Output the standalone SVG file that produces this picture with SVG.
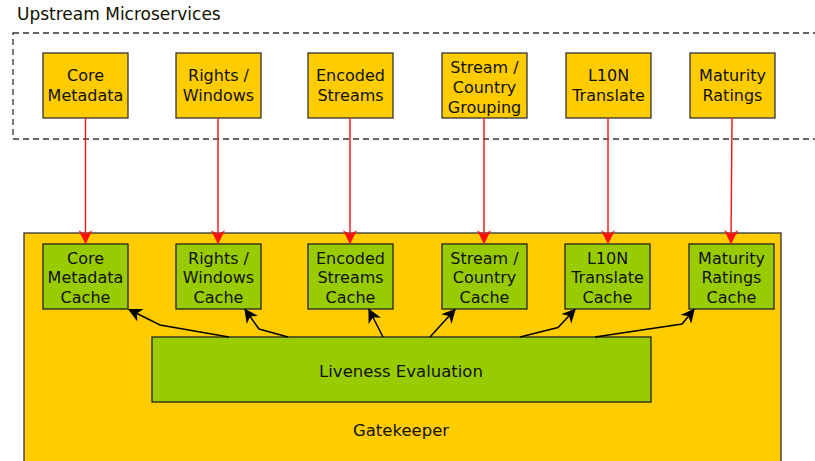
<svg xmlns="http://www.w3.org/2000/svg" width="815" height="461" viewBox="0 0 815 461">
<style>
text{font-family:"DejaVu Sans",Verdana,sans-serif;fill:#111100;text-anchor:middle}
.n{font-size:16px}
.up{fill:#FFCC00;stroke:#333;stroke-width:1.3}
.c{fill:#99CC00;stroke:#222;stroke-width:1.3}
.red{stroke:#ff1010;stroke-width:1.4;fill:none}
.blk{stroke:#000;stroke-width:1.5;fill:none}
</style>
<defs>
<marker id="ar" markerUnits="userSpaceOnUse" markerWidth="14" markerHeight="14" viewBox="0 0 12 12" refX="11" refY="6" orient="auto">
<path d="M0,0 L12,6 L0,12 L3.5,6 z" fill="#ff1010"/>
</marker>
<marker id="ab" markerUnits="userSpaceOnUse" markerWidth="14" markerHeight="14" viewBox="0 0 12 12" refX="11" refY="6" orient="auto">
<path d="M0,0 L12,6 L0,12 L3.5,6 z" fill="#000"/>
</marker>
</defs>
<text x="17" y="20" style="font-size:17px;text-anchor:start">Upstream Microservices</text>
<rect x="13" y="33" width="820" height="106" fill="none" stroke="#333" stroke-width="1.3" stroke-dasharray="6,4"/>
<g id="gatekeeper">
<rect x="24" y="233" width="757" height="240" fill="#FFCC00" stroke="#333" stroke-width="1.3"/>
<text x="401" y="436" style="font-size:16.5px">Gatekeeper</text>
</g>
<g id="up-core"><rect class="up" x="43" y="53" width="85" height="65"/><text class="n" x="85.5" y="81">Core</text><text class="n" x="85.5" y="101">Metadata</text></g>
<g id="up-rights"><rect class="up" x="176" y="53" width="85" height="65"/><text class="n" x="218.5" y="81">Rights /</text><text class="n" x="218.5" y="101">Windows</text></g>
<g id="up-encoded"><rect class="up" x="308" y="53" width="85" height="65"/><text class="n" x="350.5" y="81">Encoded</text><text class="n" x="350.5" y="101">Streams</text></g>
<g id="up-stream"><rect class="up" x="442" y="53" width="85" height="65"/><text class="n" x="484.5" y="73">Stream /</text><text class="n" x="484.5" y="93">Country</text><text class="n" x="484.5" y="113">Grouping</text></g>
<g id="up-l10n"><rect class="up" x="566" y="53" width="85" height="65"/><text class="n" x="608.5" y="81">L10N</text><text class="n" x="608.5" y="101">Translate</text></g>
<g id="up-maturity"><rect class="up" x="690" y="53" width="85" height="65"/><text class="n" x="732.5" y="81">Maturity</text><text class="n" x="732.5" y="101">Ratings</text></g>
<g id="c-core"><rect class="c" x="43" y="244" width="85" height="65"/><text class="n" x="85.5" y="263.5">Core</text><text class="n" x="85.5" y="283">Metadata</text><text class="n" x="85.5" y="302.5">Cache</text></g>
<g id="c-rights"><rect class="c" x="176" y="244" width="85" height="65"/><text class="n" x="218.5" y="263.5">Rights /</text><text class="n" x="218.5" y="283">Windows</text><text class="n" x="218.5" y="302.5">Cache</text></g>
<g id="c-encoded"><rect class="c" x="308" y="244" width="85" height="65"/><text class="n" x="350.5" y="263.5">Encoded</text><text class="n" x="350.5" y="283">Streams</text><text class="n" x="350.5" y="302.5">Cache</text></g>
<g id="c-stream"><rect class="c" x="442" y="244" width="85" height="65"/><text class="n" x="484.5" y="263.5">Stream /</text><text class="n" x="484.5" y="283">Country</text><text class="n" x="484.5" y="302.5">Cache</text></g>
<g id="c-l10n"><rect class="c" x="565" y="244" width="85" height="65"/><text class="n" x="607.5" y="263.5">L10N</text><text class="n" x="607.5" y="283">Translate</text><text class="n" x="607.5" y="302.5">Cache</text></g>
<g id="c-maturity"><rect class="c" x="689" y="244" width="85" height="65"/><text class="n" x="731.5" y="263.5">Maturity</text><text class="n" x="731.5" y="283">Ratings</text><text class="n" x="731.5" y="302.5">Cache</text></g>
<g id="liveness"><rect class="c" x="152" y="337" width="499" height="65"/><text x="401" y="377" style="font-size:16.5px">Liveness Evaluation</text></g>
<g id="connectors">
<path class="red" d="M85.5,118 V243" marker-end="url(#ar)"/>
<path class="red" d="M218,118 V243" marker-end="url(#ar)"/>
<path class="red" d="M350,118 V243" marker-end="url(#ar)"/>
<path class="red" d="M484,118 V243" marker-end="url(#ar)"/>
<path class="red" d="M608,118 V243" marker-end="url(#ar)"/>
<path class="red" d="M732,118 L731,243" marker-end="url(#ar)"/>
<path class="blk" d="M229,337 L160,325 L129,309.5" marker-end="url(#ab)"/>
<path class="blk" d="M288,337 L259,329 L245,309.5" marker-end="url(#ab)"/>
<path class="blk" d="M383,337 L369,309.5" marker-end="url(#ab)"/>
<path class="blk" d="M430,337 L455,309.5" marker-end="url(#ab)"/>
<path class="blk" d="M520,337 L558,327.5 L575,309.5" marker-end="url(#ab)"/>
<path class="blk" d="M595,337 L682,324 L694,309.5" marker-end="url(#ab)"/>
</g>
</svg>
